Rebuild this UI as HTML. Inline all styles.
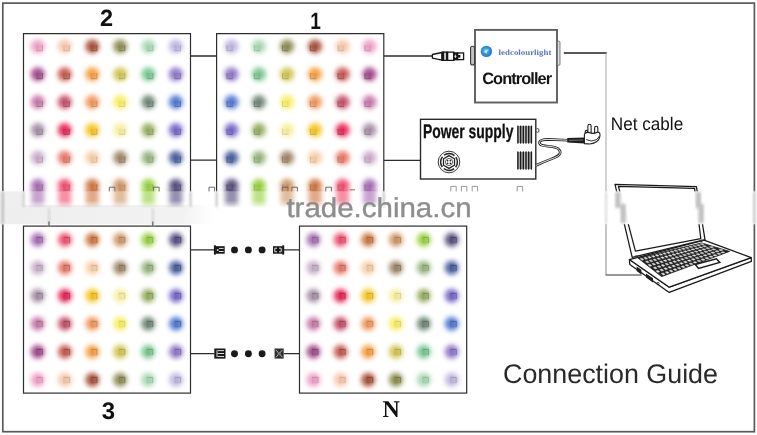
<!DOCTYPE html>
<html lang="en"><head><meta charset="utf-8"><title>Connection Guide</title>
<style>
html,body{margin:0;padding:0;background:#fff;}
body{width:757px;height:435px;overflow:hidden;font-family:"Liberation Sans",sans-serif;}
svg{display:block}
text{font-family:"Liberation Sans",sans-serif;opacity:.999;text-rendering:geometricPrecision;}
</style></head><body>
<svg width="757" height="435" viewBox="0 0 757 435">
<defs>
<filter id="glow" x="-5%" y="-5%" width="110%" height="110%"><feGaussianBlur stdDeviation="2.8"/></filter>
<filter id="soft" x="-5%" y="-5%" width="110%" height="110%"><feGaussianBlur stdDeviation="0.45"/></filter>
<filter id="smear" x="0" y="175" width="757" height="45" filterUnits="userSpaceOnUse"><feGaussianBlur stdDeviation="2.8 1.1"/></filter>
<filter id="smear2" x="-10" y="-10" width="777" height="455" filterUnits="userSpaceOnUse"><feGaussianBlur stdDeviation="1.3 1.6"/></filter>
<linearGradient id="lgray" x1="0" y1="0" x2="1" y2="0"><stop offset="0" stop-color="#eeeeee"/><stop offset=".85" stop-color="#f2f2f2"/><stop offset="1" stop-color="#f6f6f6" stop-opacity="0"/></linearGradient>
<linearGradient id="smg" x1="0" y1="0" x2="0" y2="1"><stop offset="0" stop-color="#fff"/><stop offset=".7" stop-color="#fff"/><stop offset="1" stop-color="#000"/></linearGradient>
<mask id="smask" maskUnits="userSpaceOnUse" x="0" y="180" width="757" height="40"><rect x="0" y="180" width="757" height="29" fill="url(#smg)"/></mask>
<radialGradient id="logo" cx=".45" cy=".45" r=".6"><stop offset="0" stop-color="#6cc6ee"/><stop offset=".55" stop-color="#2f8fd4"/><stop offset="1" stop-color="#2a78c0"/></radialGradient>
<filter id="b1"><feGaussianBlur stdDeviation="0.35"/></filter>
<linearGradient id="fade" x1="0" y1="0" x2="0" y2="1"><stop offset="0" stop-color="#fff" stop-opacity="0"/><stop offset=".75" stop-color="#fff" stop-opacity=".35"/><stop offset="1" stop-color="#fff" stop-opacity="1"/></linearGradient>
</defs>
<rect width="757" height="435" fill="#fff"/>

<rect x="2.8" y="3.1" width="751.6" height="428.6" fill="none" stroke="#5a5a5a" stroke-width="1.7"/>
<g fill="none" stroke="#2e2e2e" stroke-width="1.2">
<path d="M23.5 200.6V33.6H190.5V200.6"/>
<path d="M216.6 200.6V33.6H383.8V200.6"/>
<rect x="23.5" y="226.1" width="167" height="167"/>
<rect x="299.5" y="226.1" width="167.2" height="167"/>
</g>
<g fill="none" stroke="#2c2c2c" stroke-width="1.3">
<path d="M190.5 56H216.6M190.5 160.2H216.6"/>
<path d="M383.8 56H432"/>
<path d="M383.8 160.3H420.5"/>
<path d="M190.5 249.9H214.5M283.5 249.9H299.5M190.5 353.6H214.5M284 353.6H299.5"/>
<path d="M563.8 53H606.7" stroke="#222" stroke-width="1.3"/>
</g>
<path d="M606 53V224" fill="none" stroke="#a4a4a4" stroke-width="1"/>
<path d="M606 224V275" fill="none" stroke="#8a8a8a" stroke-width="1"/><path d="M605.6 275H641.6" fill="none" stroke="#333" stroke-width="1.2"/>
<g filter="url(#glow)" opacity=".93"><circle cx="37.8" cy="46.4" r="7" fill="#f09cc4"/><circle cx="64.7" cy="46.4" r="7" fill="#f7c4a8"/><circle cx="92.3" cy="46.4" r="7" fill="#a64e36"/><circle cx="120.2" cy="46.4" r="7" fill="#8a8a50"/><circle cx="148.4" cy="46.4" r="7" fill="#a6d8b0"/><circle cx="175.8" cy="46.4" r="7" fill="#beb4e0"/><circle cx="37.8" cy="74.2" r="7" fill="#a04488"/><circle cx="64.7" cy="74.2" r="7" fill="#c4544c"/><circle cx="92.3" cy="74.2" r="7" fill="#f79c3c"/><circle cx="120.2" cy="74.2" r="7" fill="#cec44c"/><circle cx="148.4" cy="74.2" r="7" fill="#74c68c"/><circle cx="175.8" cy="74.2" r="7" fill="#8c74c8"/><circle cx="37.8" cy="102.1" r="7" fill="#c874a8"/><circle cx="64.7" cy="102.1" r="7" fill="#c44c68"/><circle cx="92.3" cy="102.1" r="7" fill="#f09454"/><circle cx="120.2" cy="102.1" r="7" fill="#f7ee5c"/><circle cx="148.4" cy="102.1" r="7" fill="#6c8474"/><circle cx="175.8" cy="102.1" r="7" fill="#4c74d0"/><circle cx="37.8" cy="130.0" r="7" fill="#a48ca4"/><circle cx="64.7" cy="130.0" r="7" fill="#e82454"/><circle cx="92.3" cy="130.0" r="7" fill="#f7c41c"/><circle cx="120.2" cy="130.0" r="7" fill="#f7ee9c"/><circle cx="148.4" cy="130.0" r="7" fill="#94ac5c"/><circle cx="175.8" cy="130.0" r="7" fill="#7464c8"/><circle cx="37.8" cy="157.8" r="7" fill="#c8acc8"/><circle cx="64.7" cy="157.8" r="7" fill="#e87464"/><circle cx="92.3" cy="157.8" r="7" fill="#f7cca4"/><circle cx="120.2" cy="157.8" r="7" fill="#9c8464"/><circle cx="148.4" cy="157.8" r="7" fill="#94b47c"/><circle cx="175.8" cy="157.8" r="7" fill="#445c9c"/><circle cx="37.8" cy="185.7" r="7" fill="#a46cb0"/><circle cx="64.7" cy="185.7" r="7" fill="#f04c6c"/><circle cx="92.3" cy="185.7" r="7" fill="#ce743c"/><circle cx="120.2" cy="185.7" r="7" fill="#ce9464"/><circle cx="148.4" cy="185.7" r="7" fill="#94d03c"/><circle cx="175.8" cy="185.7" r="7" fill="#544c7c"/></g>
<g filter="url(#soft)"><rect x="36.6" y="45.2" width="5.8" height="5.6" fill="#905d75" fill-opacity="0.10"/><path d="M36.6 50.8V45.2" fill="none" stroke="#905d75" stroke-opacity="0.12" stroke-width="1"/><path d="M42.4 45.2V50.8H36.6" fill="none" stroke="#905d75" stroke-opacity="0.35" stroke-width="1.1"/><rect x="63.5" y="45.2" width="5.8" height="5.6" fill="#947564" fill-opacity="0.09"/><path d="M63.5 50.8V45.2" fill="none" stroke="#947564" stroke-opacity="0.11" stroke-width="1"/><path d="M69.3 45.2V50.8H63.5" fill="none" stroke="#947564" stroke-opacity="0.31" stroke-width="1.1"/><rect x="91.1" y="45.2" width="5.8" height="5.6" fill="#632e20" fill-opacity="0.14"/><path d="M91.1 50.8V45.2" fill="none" stroke="#632e20" stroke-opacity="0.17" stroke-width="1"/><path d="M96.9 45.2V50.8H91.1" fill="none" stroke="#632e20" stroke-opacity="0.49" stroke-width="1.1"/><rect x="119.0" y="45.2" width="5.8" height="5.6" fill="#525230" fill-opacity="0.13"/><path d="M119.0 50.8V45.2" fill="none" stroke="#525230" stroke-opacity="0.15" stroke-width="1"/><path d="M124.8 45.2V50.8H119.0" fill="none" stroke="#525230" stroke-opacity="0.44" stroke-width="1.1"/><rect x="147.2" y="45.2" width="5.8" height="5.6" fill="#638169" fill-opacity="0.10"/><path d="M147.2 50.8V45.2" fill="none" stroke="#638169" stroke-opacity="0.11" stroke-width="1"/><path d="M153.0 45.2V50.8H147.2" fill="none" stroke="#638169" stroke-opacity="0.33" stroke-width="1.1"/><rect x="174.6" y="45.2" width="5.8" height="5.6" fill="#726c86" fill-opacity="0.10"/><path d="M174.6 50.8V45.2" fill="none" stroke="#726c86" stroke-opacity="0.12" stroke-width="1"/><path d="M180.4 45.2V50.8H174.6" fill="none" stroke="#726c86" stroke-opacity="0.35" stroke-width="1.1"/><rect x="36.6" y="73.0" width="5.8" height="5.6" fill="#602851" fill-opacity="0.14"/><path d="M36.6 78.6V73.0" fill="none" stroke="#602851" stroke-opacity="0.17" stroke-width="1"/><path d="M42.4 73.0V78.6H36.6" fill="none" stroke="#602851" stroke-opacity="0.49" stroke-width="1.1"/><rect x="63.5" y="73.0" width="5.8" height="5.6" fill="#75322d" fill-opacity="0.14"/><path d="M63.5 78.6V73.0" fill="none" stroke="#75322d" stroke-opacity="0.16" stroke-width="1"/><path d="M69.3 73.0V78.6H63.5" fill="none" stroke="#75322d" stroke-opacity="0.47" stroke-width="1.1"/><rect x="91.1" y="73.0" width="5.8" height="5.6" fill="#945d24" fill-opacity="0.11"/><path d="M91.1 78.6V73.0" fill="none" stroke="#945d24" stroke-opacity="0.13" stroke-width="1"/><path d="M96.9 73.0V78.6H91.1" fill="none" stroke="#945d24" stroke-opacity="0.37" stroke-width="1.1"/><rect x="119.0" y="73.0" width="5.8" height="5.6" fill="#7b752d" fill-opacity="0.10"/><path d="M119.0 78.6V73.0" fill="none" stroke="#7b752d" stroke-opacity="0.12" stroke-width="1"/><path d="M124.8 73.0V78.6H119.0" fill="none" stroke="#7b752d" stroke-opacity="0.35" stroke-width="1.1"/><rect x="147.2" y="73.0" width="5.8" height="5.6" fill="#457654" fill-opacity="0.11"/><path d="M147.2 78.6V73.0" fill="none" stroke="#457654" stroke-opacity="0.13" stroke-width="1"/><path d="M153.0 73.0V78.6H147.2" fill="none" stroke="#457654" stroke-opacity="0.38" stroke-width="1.1"/><rect x="174.6" y="73.0" width="5.8" height="5.6" fill="#544578" fill-opacity="0.13"/><path d="M174.6 78.6V73.0" fill="none" stroke="#544578" stroke-opacity="0.15" stroke-width="1"/><path d="M180.4 73.0V78.6H174.6" fill="none" stroke="#544578" stroke-opacity="0.44" stroke-width="1.1"/><rect x="36.6" y="100.9" width="5.8" height="5.6" fill="#784564" fill-opacity="0.12"/><path d="M36.6 106.5V100.9" fill="none" stroke="#784564" stroke-opacity="0.14" stroke-width="1"/><path d="M42.4 100.9V106.5H36.6" fill="none" stroke="#784564" stroke-opacity="0.42" stroke-width="1.1"/><rect x="63.5" y="100.9" width="5.8" height="5.6" fill="#752d3e" fill-opacity="0.14"/><path d="M63.5 106.5V100.9" fill="none" stroke="#752d3e" stroke-opacity="0.16" stroke-width="1"/><path d="M69.3 100.9V106.5H63.5" fill="none" stroke="#752d3e" stroke-opacity="0.47" stroke-width="1.1"/><rect x="91.1" y="100.9" width="5.8" height="5.6" fill="#905832" fill-opacity="0.11"/><path d="M91.1 106.5V100.9" fill="none" stroke="#905832" stroke-opacity="0.13" stroke-width="1"/><path d="M96.9 100.9V106.5H91.1" fill="none" stroke="#905832" stroke-opacity="0.38" stroke-width="1.1"/><rect x="119.0" y="100.9" width="5.8" height="5.6" fill="#948e37" fill-opacity="0.08"/><path d="M119.0 106.5V100.9" fill="none" stroke="#948e37" stroke-opacity="0.10" stroke-width="1"/><path d="M124.8 100.9V106.5H119.0" fill="none" stroke="#948e37" stroke-opacity="0.28" stroke-width="1.1"/><rect x="147.2" y="100.9" width="5.8" height="5.6" fill="#404f45" fill-opacity="0.13"/><path d="M147.2 106.5V100.9" fill="none" stroke="#404f45" stroke-opacity="0.16" stroke-width="1"/><path d="M153.0 100.9V106.5H147.2" fill="none" stroke="#404f45" stroke-opacity="0.46" stroke-width="1.1"/><rect x="174.6" y="100.9" width="5.8" height="5.6" fill="#2d457c" fill-opacity="0.14"/><path d="M174.6 106.5V100.9" fill="none" stroke="#2d457c" stroke-opacity="0.16" stroke-width="1"/><path d="M180.4 100.9V106.5H174.6" fill="none" stroke="#2d457c" stroke-opacity="0.47" stroke-width="1.1"/><rect x="36.6" y="128.8" width="5.8" height="5.6" fill="#625462" fill-opacity="0.12"/><path d="M36.6 134.4V128.8" fill="none" stroke="#625462" stroke-opacity="0.14" stroke-width="1"/><path d="M42.4 128.8V134.4H36.6" fill="none" stroke="#625462" stroke-opacity="0.41" stroke-width="1.1"/><rect x="63.5" y="128.8" width="5.8" height="5.6" fill="#8b1532" fill-opacity="0.15"/><path d="M63.5 134.4V128.8" fill="none" stroke="#8b1532" stroke-opacity="0.17" stroke-width="1"/><path d="M69.3 128.8V134.4H63.5" fill="none" stroke="#8b1532" stroke-opacity="0.50" stroke-width="1.1"/><rect x="91.1" y="128.8" width="5.8" height="5.6" fill="#947510" fill-opacity="0.10"/><path d="M91.1 134.4V128.8" fill="none" stroke="#947510" stroke-opacity="0.12" stroke-width="1"/><path d="M96.9 128.8V134.4H91.1" fill="none" stroke="#947510" stroke-opacity="0.34" stroke-width="1.1"/><rect x="119.0" y="128.8" width="5.8" height="5.6" fill="#948e5d" fill-opacity="0.08"/><path d="M119.0 134.4V128.8" fill="none" stroke="#948e5d" stroke-opacity="0.09" stroke-width="1"/><path d="M124.8 128.8V134.4H119.0" fill="none" stroke="#948e5d" stroke-opacity="0.27" stroke-width="1.1"/><rect x="147.2" y="128.8" width="5.8" height="5.6" fill="#586737" fill-opacity="0.12"/><path d="M147.2 134.4V128.8" fill="none" stroke="#586737" stroke-opacity="0.14" stroke-width="1"/><path d="M153.0 128.8V134.4H147.2" fill="none" stroke="#586737" stroke-opacity="0.40" stroke-width="1.1"/><rect x="174.6" y="128.8" width="5.8" height="5.6" fill="#453c78" fill-opacity="0.14"/><path d="M174.6 134.4V128.8" fill="none" stroke="#453c78" stroke-opacity="0.16" stroke-width="1"/><path d="M180.4 128.8V134.4H174.6" fill="none" stroke="#453c78" stroke-opacity="0.47" stroke-width="1.1"/><rect x="36.6" y="156.6" width="5.8" height="5.6" fill="#786778" fill-opacity="0.10"/><path d="M36.6 162.2V156.6" fill="none" stroke="#786778" stroke-opacity="0.12" stroke-width="1"/><path d="M42.4 156.6V162.2H36.6" fill="none" stroke="#786778" stroke-opacity="0.35" stroke-width="1.1"/><rect x="63.5" y="156.6" width="5.8" height="5.6" fill="#8b453c" fill-opacity="0.12"/><path d="M63.5 162.2V156.6" fill="none" stroke="#8b453c" stroke-opacity="0.14" stroke-width="1"/><path d="M69.3 156.6V162.2H63.5" fill="none" stroke="#8b453c" stroke-opacity="0.41" stroke-width="1.1"/><rect x="91.1" y="156.6" width="5.8" height="5.6" fill="#947a62" fill-opacity="0.09"/><path d="M91.1 162.2V156.6" fill="none" stroke="#947a62" stroke-opacity="0.10" stroke-width="1"/><path d="M96.9 156.6V162.2H91.1" fill="none" stroke="#947a62" stroke-opacity="0.30" stroke-width="1.1"/><rect x="119.0" y="156.6" width="5.8" height="5.6" fill="#5d4f3c" fill-opacity="0.13"/><path d="M119.0 162.2V156.6" fill="none" stroke="#5d4f3c" stroke-opacity="0.15" stroke-width="1"/><path d="M124.8 156.6V162.2H119.0" fill="none" stroke="#5d4f3c" stroke-opacity="0.44" stroke-width="1.1"/><rect x="147.2" y="156.6" width="5.8" height="5.6" fill="#586c4a" fill-opacity="0.11"/><path d="M147.2 162.2V156.6" fill="none" stroke="#586c4a" stroke-opacity="0.13" stroke-width="1"/><path d="M153.0 156.6V162.2H147.2" fill="none" stroke="#586c4a" stroke-opacity="0.39" stroke-width="1.1"/><rect x="174.6" y="156.6" width="5.8" height="5.6" fill="#28375d" fill-opacity="0.15"/><path d="M174.6 162.2V156.6" fill="none" stroke="#28375d" stroke-opacity="0.18" stroke-width="1"/><path d="M180.4 156.6V162.2H174.6" fill="none" stroke="#28375d" stroke-opacity="0.51" stroke-width="1.1"/><rect x="36.6" y="184.4" width="5.8" height="5.6" fill="#624069" fill-opacity="0.13"/><path d="M36.6 190.1V184.4" fill="none" stroke="#624069" stroke-opacity="0.15" stroke-width="1"/><path d="M42.4 184.4V190.1H36.6" fill="none" stroke="#624069" stroke-opacity="0.44" stroke-width="1.1"/><rect x="63.5" y="184.4" width="5.8" height="5.6" fill="#902d40" fill-opacity="0.13"/><path d="M63.5 190.1V184.4" fill="none" stroke="#902d40" stroke-opacity="0.15" stroke-width="1"/><path d="M69.3 184.4V190.1H63.5" fill="none" stroke="#902d40" stroke-opacity="0.45" stroke-width="1.1"/><rect x="91.1" y="184.4" width="5.8" height="5.6" fill="#7b4524" fill-opacity="0.13"/><path d="M91.1 190.1V184.4" fill="none" stroke="#7b4524" stroke-opacity="0.15" stroke-width="1"/><path d="M96.9 184.4V190.1H91.1" fill="none" stroke="#7b4524" stroke-opacity="0.43" stroke-width="1.1"/><rect x="119.0" y="184.4" width="5.8" height="5.6" fill="#7b583c" fill-opacity="0.12"/><path d="M119.0 190.1V184.4" fill="none" stroke="#7b583c" stroke-opacity="0.14" stroke-width="1"/><path d="M124.8 184.4V190.1H119.0" fill="none" stroke="#7b583c" stroke-opacity="0.39" stroke-width="1.1"/><rect x="147.2" y="184.4" width="5.8" height="5.6" fill="#587c24" fill-opacity="0.11"/><path d="M147.2 190.1V184.4" fill="none" stroke="#587c24" stroke-opacity="0.13" stroke-width="1"/><path d="M153.0 184.4V190.1H147.2" fill="none" stroke="#587c24" stroke-opacity="0.37" stroke-width="1.1"/><rect x="174.6" y="184.4" width="5.8" height="5.6" fill="#322d4a" fill-opacity="0.15"/><path d="M174.6 190.1V184.4" fill="none" stroke="#322d4a" stroke-opacity="0.18" stroke-width="1"/><path d="M180.4 184.4V190.1H174.6" fill="none" stroke="#322d4a" stroke-opacity="0.52" stroke-width="1.1"/></g>
<g filter="url(#glow)" opacity=".93"><circle cx="231.5" cy="46.4" r="7" fill="#beb4e0"/><circle cx="258.9" cy="46.4" r="7" fill="#a6d8b0"/><circle cx="287.1" cy="46.4" r="7" fill="#8a8a50"/><circle cx="315.0" cy="46.4" r="7" fill="#a64e36"/><circle cx="342.6" cy="46.4" r="7" fill="#f7c4a8"/><circle cx="369.5" cy="46.4" r="7" fill="#f09cc4"/><circle cx="231.5" cy="74.2" r="7" fill="#8c74c8"/><circle cx="258.9" cy="74.2" r="7" fill="#74c68c"/><circle cx="287.1" cy="74.2" r="7" fill="#cec44c"/><circle cx="315.0" cy="74.2" r="7" fill="#f79c3c"/><circle cx="342.6" cy="74.2" r="7" fill="#c4544c"/><circle cx="369.5" cy="74.2" r="7" fill="#a04488"/><circle cx="231.5" cy="102.1" r="7" fill="#4c74d0"/><circle cx="258.9" cy="102.1" r="7" fill="#6c8474"/><circle cx="287.1" cy="102.1" r="7" fill="#f7ee5c"/><circle cx="315.0" cy="102.1" r="7" fill="#f09454"/><circle cx="342.6" cy="102.1" r="7" fill="#c44c68"/><circle cx="369.5" cy="102.1" r="7" fill="#c874a8"/><circle cx="231.5" cy="130.0" r="7" fill="#7464c8"/><circle cx="258.9" cy="130.0" r="7" fill="#94ac5c"/><circle cx="287.1" cy="130.0" r="7" fill="#f7ee9c"/><circle cx="315.0" cy="130.0" r="7" fill="#f7c41c"/><circle cx="342.6" cy="130.0" r="7" fill="#e82454"/><circle cx="369.5" cy="130.0" r="7" fill="#a48ca4"/><circle cx="231.5" cy="157.8" r="7" fill="#445c9c"/><circle cx="258.9" cy="157.8" r="7" fill="#94b47c"/><circle cx="287.1" cy="157.8" r="7" fill="#9c8464"/><circle cx="315.0" cy="157.8" r="7" fill="#f7cca4"/><circle cx="342.6" cy="157.8" r="7" fill="#e87464"/><circle cx="369.5" cy="157.8" r="7" fill="#c8acc8"/><circle cx="231.5" cy="185.7" r="7" fill="#544c7c"/><circle cx="258.9" cy="185.7" r="7" fill="#94d03c"/><circle cx="287.1" cy="185.7" r="7" fill="#ce9464"/><circle cx="315.0" cy="185.7" r="7" fill="#ce743c"/><circle cx="342.6" cy="185.7" r="7" fill="#f04c6c"/><circle cx="369.5" cy="185.7" r="7" fill="#a46cb0"/></g>
<g filter="url(#soft)"><rect x="226.9" y="45.2" width="5.8" height="5.6" fill="#726c86" fill-opacity="0.10"/><path d="M232.7 50.8V45.2" fill="none" stroke="#726c86" stroke-opacity="0.12" stroke-width="1"/><path d="M226.9 45.2V50.8H232.7" fill="none" stroke="#726c86" stroke-opacity="0.35" stroke-width="1.1"/><rect x="254.3" y="45.2" width="5.8" height="5.6" fill="#638169" fill-opacity="0.10"/><path d="M260.1 50.8V45.2" fill="none" stroke="#638169" stroke-opacity="0.11" stroke-width="1"/><path d="M254.3 45.2V50.8H260.1" fill="none" stroke="#638169" stroke-opacity="0.33" stroke-width="1.1"/><rect x="282.5" y="45.2" width="5.8" height="5.6" fill="#525230" fill-opacity="0.13"/><path d="M288.3 50.8V45.2" fill="none" stroke="#525230" stroke-opacity="0.15" stroke-width="1"/><path d="M282.5 45.2V50.8H288.3" fill="none" stroke="#525230" stroke-opacity="0.44" stroke-width="1.1"/><rect x="310.4" y="45.2" width="5.8" height="5.6" fill="#632e20" fill-opacity="0.14"/><path d="M316.2 50.8V45.2" fill="none" stroke="#632e20" stroke-opacity="0.17" stroke-width="1"/><path d="M310.4 45.2V50.8H316.2" fill="none" stroke="#632e20" stroke-opacity="0.49" stroke-width="1.1"/><rect x="338.0" y="45.2" width="5.8" height="5.6" fill="#947564" fill-opacity="0.09"/><path d="M343.8 50.8V45.2" fill="none" stroke="#947564" stroke-opacity="0.11" stroke-width="1"/><path d="M338.0 45.2V50.8H343.8" fill="none" stroke="#947564" stroke-opacity="0.31" stroke-width="1.1"/><rect x="364.9" y="45.2" width="5.8" height="5.6" fill="#905d75" fill-opacity="0.10"/><path d="M370.7 50.8V45.2" fill="none" stroke="#905d75" stroke-opacity="0.12" stroke-width="1"/><path d="M364.9 45.2V50.8H370.7" fill="none" stroke="#905d75" stroke-opacity="0.35" stroke-width="1.1"/><rect x="226.9" y="73.0" width="5.8" height="5.6" fill="#544578" fill-opacity="0.13"/><path d="M232.7 78.6V73.0" fill="none" stroke="#544578" stroke-opacity="0.15" stroke-width="1"/><path d="M226.9 73.0V78.6H232.7" fill="none" stroke="#544578" stroke-opacity="0.44" stroke-width="1.1"/><rect x="254.3" y="73.0" width="5.8" height="5.6" fill="#457654" fill-opacity="0.11"/><path d="M260.1 78.6V73.0" fill="none" stroke="#457654" stroke-opacity="0.13" stroke-width="1"/><path d="M254.3 73.0V78.6H260.1" fill="none" stroke="#457654" stroke-opacity="0.38" stroke-width="1.1"/><rect x="282.5" y="73.0" width="5.8" height="5.6" fill="#7b752d" fill-opacity="0.10"/><path d="M288.3 78.6V73.0" fill="none" stroke="#7b752d" stroke-opacity="0.12" stroke-width="1"/><path d="M282.5 73.0V78.6H288.3" fill="none" stroke="#7b752d" stroke-opacity="0.35" stroke-width="1.1"/><rect x="310.4" y="73.0" width="5.8" height="5.6" fill="#945d24" fill-opacity="0.11"/><path d="M316.2 78.6V73.0" fill="none" stroke="#945d24" stroke-opacity="0.13" stroke-width="1"/><path d="M310.4 73.0V78.6H316.2" fill="none" stroke="#945d24" stroke-opacity="0.37" stroke-width="1.1"/><rect x="338.0" y="73.0" width="5.8" height="5.6" fill="#75322d" fill-opacity="0.14"/><path d="M343.8 78.6V73.0" fill="none" stroke="#75322d" stroke-opacity="0.16" stroke-width="1"/><path d="M338.0 73.0V78.6H343.8" fill="none" stroke="#75322d" stroke-opacity="0.47" stroke-width="1.1"/><rect x="364.9" y="73.0" width="5.8" height="5.6" fill="#602851" fill-opacity="0.14"/><path d="M370.7 78.6V73.0" fill="none" stroke="#602851" stroke-opacity="0.17" stroke-width="1"/><path d="M364.9 73.0V78.6H370.7" fill="none" stroke="#602851" stroke-opacity="0.49" stroke-width="1.1"/><rect x="226.9" y="100.9" width="5.8" height="5.6" fill="#2d457c" fill-opacity="0.14"/><path d="M232.7 106.5V100.9" fill="none" stroke="#2d457c" stroke-opacity="0.16" stroke-width="1"/><path d="M226.9 100.9V106.5H232.7" fill="none" stroke="#2d457c" stroke-opacity="0.47" stroke-width="1.1"/><rect x="254.3" y="100.9" width="5.8" height="5.6" fill="#404f45" fill-opacity="0.13"/><path d="M260.1 106.5V100.9" fill="none" stroke="#404f45" stroke-opacity="0.16" stroke-width="1"/><path d="M254.3 100.9V106.5H260.1" fill="none" stroke="#404f45" stroke-opacity="0.46" stroke-width="1.1"/><rect x="282.5" y="100.9" width="5.8" height="5.6" fill="#948e37" fill-opacity="0.08"/><path d="M288.3 106.5V100.9" fill="none" stroke="#948e37" stroke-opacity="0.10" stroke-width="1"/><path d="M282.5 100.9V106.5H288.3" fill="none" stroke="#948e37" stroke-opacity="0.28" stroke-width="1.1"/><rect x="310.4" y="100.9" width="5.8" height="5.6" fill="#905832" fill-opacity="0.11"/><path d="M316.2 106.5V100.9" fill="none" stroke="#905832" stroke-opacity="0.13" stroke-width="1"/><path d="M310.4 100.9V106.5H316.2" fill="none" stroke="#905832" stroke-opacity="0.38" stroke-width="1.1"/><rect x="338.0" y="100.9" width="5.8" height="5.6" fill="#752d3e" fill-opacity="0.14"/><path d="M343.8 106.5V100.9" fill="none" stroke="#752d3e" stroke-opacity="0.16" stroke-width="1"/><path d="M338.0 100.9V106.5H343.8" fill="none" stroke="#752d3e" stroke-opacity="0.47" stroke-width="1.1"/><rect x="364.9" y="100.9" width="5.8" height="5.6" fill="#784564" fill-opacity="0.12"/><path d="M370.7 106.5V100.9" fill="none" stroke="#784564" stroke-opacity="0.14" stroke-width="1"/><path d="M364.9 100.9V106.5H370.7" fill="none" stroke="#784564" stroke-opacity="0.42" stroke-width="1.1"/><rect x="226.9" y="128.8" width="5.8" height="5.6" fill="#453c78" fill-opacity="0.14"/><path d="M232.7 134.4V128.8" fill="none" stroke="#453c78" stroke-opacity="0.16" stroke-width="1"/><path d="M226.9 128.8V134.4H232.7" fill="none" stroke="#453c78" stroke-opacity="0.47" stroke-width="1.1"/><rect x="254.3" y="128.8" width="5.8" height="5.6" fill="#586737" fill-opacity="0.12"/><path d="M260.1 134.4V128.8" fill="none" stroke="#586737" stroke-opacity="0.14" stroke-width="1"/><path d="M254.3 128.8V134.4H260.1" fill="none" stroke="#586737" stroke-opacity="0.40" stroke-width="1.1"/><rect x="282.5" y="128.8" width="5.8" height="5.6" fill="#948e5d" fill-opacity="0.08"/><path d="M288.3 134.4V128.8" fill="none" stroke="#948e5d" stroke-opacity="0.09" stroke-width="1"/><path d="M282.5 128.8V134.4H288.3" fill="none" stroke="#948e5d" stroke-opacity="0.27" stroke-width="1.1"/><rect x="310.4" y="128.8" width="5.8" height="5.6" fill="#947510" fill-opacity="0.10"/><path d="M316.2 134.4V128.8" fill="none" stroke="#947510" stroke-opacity="0.12" stroke-width="1"/><path d="M310.4 128.8V134.4H316.2" fill="none" stroke="#947510" stroke-opacity="0.34" stroke-width="1.1"/><rect x="338.0" y="128.8" width="5.8" height="5.6" fill="#8b1532" fill-opacity="0.15"/><path d="M343.8 134.4V128.8" fill="none" stroke="#8b1532" stroke-opacity="0.17" stroke-width="1"/><path d="M338.0 128.8V134.4H343.8" fill="none" stroke="#8b1532" stroke-opacity="0.50" stroke-width="1.1"/><rect x="364.9" y="128.8" width="5.8" height="5.6" fill="#625462" fill-opacity="0.12"/><path d="M370.7 134.4V128.8" fill="none" stroke="#625462" stroke-opacity="0.14" stroke-width="1"/><path d="M364.9 128.8V134.4H370.7" fill="none" stroke="#625462" stroke-opacity="0.41" stroke-width="1.1"/><rect x="226.9" y="156.6" width="5.8" height="5.6" fill="#28375d" fill-opacity="0.15"/><path d="M232.7 162.2V156.6" fill="none" stroke="#28375d" stroke-opacity="0.18" stroke-width="1"/><path d="M226.9 156.6V162.2H232.7" fill="none" stroke="#28375d" stroke-opacity="0.51" stroke-width="1.1"/><rect x="254.3" y="156.6" width="5.8" height="5.6" fill="#586c4a" fill-opacity="0.11"/><path d="M260.1 162.2V156.6" fill="none" stroke="#586c4a" stroke-opacity="0.13" stroke-width="1"/><path d="M254.3 156.6V162.2H260.1" fill="none" stroke="#586c4a" stroke-opacity="0.39" stroke-width="1.1"/><rect x="282.5" y="156.6" width="5.8" height="5.6" fill="#5d4f3c" fill-opacity="0.13"/><path d="M288.3 162.2V156.6" fill="none" stroke="#5d4f3c" stroke-opacity="0.15" stroke-width="1"/><path d="M282.5 156.6V162.2H288.3" fill="none" stroke="#5d4f3c" stroke-opacity="0.44" stroke-width="1.1"/><rect x="310.4" y="156.6" width="5.8" height="5.6" fill="#947a62" fill-opacity="0.09"/><path d="M316.2 162.2V156.6" fill="none" stroke="#947a62" stroke-opacity="0.10" stroke-width="1"/><path d="M310.4 156.6V162.2H316.2" fill="none" stroke="#947a62" stroke-opacity="0.30" stroke-width="1.1"/><rect x="338.0" y="156.6" width="5.8" height="5.6" fill="#8b453c" fill-opacity="0.12"/><path d="M343.8 162.2V156.6" fill="none" stroke="#8b453c" stroke-opacity="0.14" stroke-width="1"/><path d="M338.0 156.6V162.2H343.8" fill="none" stroke="#8b453c" stroke-opacity="0.41" stroke-width="1.1"/><rect x="364.9" y="156.6" width="5.8" height="5.6" fill="#786778" fill-opacity="0.10"/><path d="M370.7 162.2V156.6" fill="none" stroke="#786778" stroke-opacity="0.12" stroke-width="1"/><path d="M364.9 156.6V162.2H370.7" fill="none" stroke="#786778" stroke-opacity="0.35" stroke-width="1.1"/><rect x="226.9" y="184.4" width="5.8" height="5.6" fill="#322d4a" fill-opacity="0.15"/><path d="M232.7 190.1V184.4" fill="none" stroke="#322d4a" stroke-opacity="0.18" stroke-width="1"/><path d="M226.9 184.4V190.1H232.7" fill="none" stroke="#322d4a" stroke-opacity="0.52" stroke-width="1.1"/><rect x="254.3" y="184.4" width="5.8" height="5.6" fill="#587c24" fill-opacity="0.11"/><path d="M260.1 190.1V184.4" fill="none" stroke="#587c24" stroke-opacity="0.13" stroke-width="1"/><path d="M254.3 184.4V190.1H260.1" fill="none" stroke="#587c24" stroke-opacity="0.37" stroke-width="1.1"/><rect x="282.5" y="184.4" width="5.8" height="5.6" fill="#7b583c" fill-opacity="0.12"/><path d="M288.3 190.1V184.4" fill="none" stroke="#7b583c" stroke-opacity="0.14" stroke-width="1"/><path d="M282.5 184.4V190.1H288.3" fill="none" stroke="#7b583c" stroke-opacity="0.39" stroke-width="1.1"/><rect x="310.4" y="184.4" width="5.8" height="5.6" fill="#7b4524" fill-opacity="0.13"/><path d="M316.2 190.1V184.4" fill="none" stroke="#7b4524" stroke-opacity="0.15" stroke-width="1"/><path d="M310.4 184.4V190.1H316.2" fill="none" stroke="#7b4524" stroke-opacity="0.43" stroke-width="1.1"/><rect x="338.0" y="184.4" width="5.8" height="5.6" fill="#902d40" fill-opacity="0.13"/><path d="M343.8 190.1V184.4" fill="none" stroke="#902d40" stroke-opacity="0.15" stroke-width="1"/><path d="M338.0 184.4V190.1H343.8" fill="none" stroke="#902d40" stroke-opacity="0.45" stroke-width="1.1"/><rect x="364.9" y="184.4" width="5.8" height="5.6" fill="#624069" fill-opacity="0.13"/><path d="M370.7 190.1V184.4" fill="none" stroke="#624069" stroke-opacity="0.15" stroke-width="1"/><path d="M364.9 184.4V190.1H370.7" fill="none" stroke="#624069" stroke-opacity="0.44" stroke-width="1.1"/></g>
<g filter="url(#glow)" opacity=".93"><circle cx="37.7" cy="239.8" r="7" fill="#a46cb0"/><circle cx="64.9" cy="239.8" r="7" fill="#f04c6c"/><circle cx="92.4" cy="239.8" r="7" fill="#ce743c"/><circle cx="120.2" cy="239.8" r="7" fill="#ce9464"/><circle cx="148.1" cy="239.8" r="7" fill="#94d03c"/><circle cx="176.0" cy="239.8" r="7" fill="#544c7c"/><circle cx="37.7" cy="267.8" r="7" fill="#c8acc8"/><circle cx="64.9" cy="267.8" r="7" fill="#e87464"/><circle cx="92.4" cy="267.8" r="7" fill="#f7cca4"/><circle cx="120.2" cy="267.8" r="7" fill="#9c8464"/><circle cx="148.1" cy="267.8" r="7" fill="#94b47c"/><circle cx="176.0" cy="267.8" r="7" fill="#445c9c"/><circle cx="37.7" cy="295.8" r="7" fill="#a48ca4"/><circle cx="64.9" cy="295.8" r="7" fill="#e82454"/><circle cx="92.4" cy="295.8" r="7" fill="#f7c41c"/><circle cx="120.2" cy="295.8" r="7" fill="#f7ee9c"/><circle cx="148.1" cy="295.8" r="7" fill="#94ac5c"/><circle cx="176.0" cy="295.8" r="7" fill="#7464c8"/><circle cx="37.7" cy="323.8" r="7" fill="#c874a8"/><circle cx="64.9" cy="323.8" r="7" fill="#c44c68"/><circle cx="92.4" cy="323.8" r="7" fill="#f09454"/><circle cx="120.2" cy="323.8" r="7" fill="#f7ee5c"/><circle cx="148.1" cy="323.8" r="7" fill="#6c8474"/><circle cx="176.0" cy="323.8" r="7" fill="#4c74d0"/><circle cx="37.7" cy="351.8" r="7" fill="#a04488"/><circle cx="64.9" cy="351.8" r="7" fill="#c4544c"/><circle cx="92.4" cy="351.8" r="7" fill="#f79c3c"/><circle cx="120.2" cy="351.8" r="7" fill="#cec44c"/><circle cx="148.1" cy="351.8" r="7" fill="#74c68c"/><circle cx="176.0" cy="351.8" r="7" fill="#8c74c8"/><circle cx="37.7" cy="379.8" r="7" fill="#f09cc4"/><circle cx="64.9" cy="379.8" r="7" fill="#f7c4a8"/><circle cx="92.4" cy="379.8" r="7" fill="#a64e36"/><circle cx="120.2" cy="379.8" r="7" fill="#8a8a50"/><circle cx="148.1" cy="379.8" r="7" fill="#a6d8b0"/><circle cx="176.0" cy="379.8" r="7" fill="#beb4e0"/></g>
<g filter="url(#soft)"><rect x="36.5" y="237.4" width="5.8" height="5.6" fill="#624069" fill-opacity="0.13"/><path d="M36.5 237.4V243.0H42.3" fill="none" stroke="#624069" stroke-opacity="0.15" stroke-width="1"/><path d="M36.5 237.4H42.3V243.0" fill="none" stroke="#624069" stroke-opacity="0.44" stroke-width="1.1"/><rect x="63.7" y="237.4" width="5.8" height="5.6" fill="#902d40" fill-opacity="0.13"/><path d="M63.7 237.4V243.0H69.5" fill="none" stroke="#902d40" stroke-opacity="0.15" stroke-width="1"/><path d="M63.7 237.4H69.5V243.0" fill="none" stroke="#902d40" stroke-opacity="0.45" stroke-width="1.1"/><rect x="91.2" y="237.4" width="5.8" height="5.6" fill="#7b4524" fill-opacity="0.13"/><path d="M91.2 237.4V243.0H97.0" fill="none" stroke="#7b4524" stroke-opacity="0.15" stroke-width="1"/><path d="M91.2 237.4H97.0V243.0" fill="none" stroke="#7b4524" stroke-opacity="0.43" stroke-width="1.1"/><rect x="119.0" y="237.4" width="5.8" height="5.6" fill="#7b583c" fill-opacity="0.12"/><path d="M119.0 237.4V243.0H124.8" fill="none" stroke="#7b583c" stroke-opacity="0.14" stroke-width="1"/><path d="M119.0 237.4H124.8V243.0" fill="none" stroke="#7b583c" stroke-opacity="0.39" stroke-width="1.1"/><rect x="146.9" y="237.4" width="5.8" height="5.6" fill="#587c24" fill-opacity="0.11"/><path d="M146.9 237.4V243.0H152.7" fill="none" stroke="#587c24" stroke-opacity="0.13" stroke-width="1"/><path d="M146.9 237.4H152.7V243.0" fill="none" stroke="#587c24" stroke-opacity="0.37" stroke-width="1.1"/><rect x="174.8" y="237.4" width="5.8" height="5.6" fill="#322d4a" fill-opacity="0.15"/><path d="M174.8 237.4V243.0H180.6" fill="none" stroke="#322d4a" stroke-opacity="0.18" stroke-width="1"/><path d="M174.8 237.4H180.6V243.0" fill="none" stroke="#322d4a" stroke-opacity="0.52" stroke-width="1.1"/><rect x="36.5" y="265.4" width="5.8" height="5.6" fill="#786778" fill-opacity="0.10"/><path d="M36.5 265.4V271.0H42.3" fill="none" stroke="#786778" stroke-opacity="0.12" stroke-width="1"/><path d="M36.5 265.4H42.3V271.0" fill="none" stroke="#786778" stroke-opacity="0.35" stroke-width="1.1"/><rect x="63.7" y="265.4" width="5.8" height="5.6" fill="#8b453c" fill-opacity="0.12"/><path d="M63.7 265.4V271.0H69.5" fill="none" stroke="#8b453c" stroke-opacity="0.14" stroke-width="1"/><path d="M63.7 265.4H69.5V271.0" fill="none" stroke="#8b453c" stroke-opacity="0.41" stroke-width="1.1"/><rect x="91.2" y="265.4" width="5.8" height="5.6" fill="#947a62" fill-opacity="0.09"/><path d="M91.2 265.4V271.0H97.0" fill="none" stroke="#947a62" stroke-opacity="0.10" stroke-width="1"/><path d="M91.2 265.4H97.0V271.0" fill="none" stroke="#947a62" stroke-opacity="0.30" stroke-width="1.1"/><rect x="119.0" y="265.4" width="5.8" height="5.6" fill="#5d4f3c" fill-opacity="0.13"/><path d="M119.0 265.4V271.0H124.8" fill="none" stroke="#5d4f3c" stroke-opacity="0.15" stroke-width="1"/><path d="M119.0 265.4H124.8V271.0" fill="none" stroke="#5d4f3c" stroke-opacity="0.44" stroke-width="1.1"/><rect x="146.9" y="265.4" width="5.8" height="5.6" fill="#586c4a" fill-opacity="0.11"/><path d="M146.9 265.4V271.0H152.7" fill="none" stroke="#586c4a" stroke-opacity="0.13" stroke-width="1"/><path d="M146.9 265.4H152.7V271.0" fill="none" stroke="#586c4a" stroke-opacity="0.39" stroke-width="1.1"/><rect x="174.8" y="265.4" width="5.8" height="5.6" fill="#28375d" fill-opacity="0.15"/><path d="M174.8 265.4V271.0H180.6" fill="none" stroke="#28375d" stroke-opacity="0.18" stroke-width="1"/><path d="M174.8 265.4H180.6V271.0" fill="none" stroke="#28375d" stroke-opacity="0.51" stroke-width="1.1"/><rect x="36.5" y="293.4" width="5.8" height="5.6" fill="#625462" fill-opacity="0.12"/><path d="M36.5 293.4V299.0H42.3" fill="none" stroke="#625462" stroke-opacity="0.14" stroke-width="1"/><path d="M36.5 293.4H42.3V299.0" fill="none" stroke="#625462" stroke-opacity="0.41" stroke-width="1.1"/><rect x="63.7" y="293.4" width="5.8" height="5.6" fill="#8b1532" fill-opacity="0.15"/><path d="M63.7 293.4V299.0H69.5" fill="none" stroke="#8b1532" stroke-opacity="0.17" stroke-width="1"/><path d="M63.7 293.4H69.5V299.0" fill="none" stroke="#8b1532" stroke-opacity="0.50" stroke-width="1.1"/><rect x="91.2" y="293.4" width="5.8" height="5.6" fill="#947510" fill-opacity="0.10"/><path d="M91.2 293.4V299.0H97.0" fill="none" stroke="#947510" stroke-opacity="0.12" stroke-width="1"/><path d="M91.2 293.4H97.0V299.0" fill="none" stroke="#947510" stroke-opacity="0.34" stroke-width="1.1"/><rect x="119.0" y="293.4" width="5.8" height="5.6" fill="#948e5d" fill-opacity="0.08"/><path d="M119.0 293.4V299.0H124.8" fill="none" stroke="#948e5d" stroke-opacity="0.09" stroke-width="1"/><path d="M119.0 293.4H124.8V299.0" fill="none" stroke="#948e5d" stroke-opacity="0.27" stroke-width="1.1"/><rect x="146.9" y="293.4" width="5.8" height="5.6" fill="#586737" fill-opacity="0.12"/><path d="M146.9 293.4V299.0H152.7" fill="none" stroke="#586737" stroke-opacity="0.14" stroke-width="1"/><path d="M146.9 293.4H152.7V299.0" fill="none" stroke="#586737" stroke-opacity="0.40" stroke-width="1.1"/><rect x="174.8" y="293.4" width="5.8" height="5.6" fill="#453c78" fill-opacity="0.14"/><path d="M174.8 293.4V299.0H180.6" fill="none" stroke="#453c78" stroke-opacity="0.16" stroke-width="1"/><path d="M174.8 293.4H180.6V299.0" fill="none" stroke="#453c78" stroke-opacity="0.47" stroke-width="1.1"/><rect x="36.5" y="321.4" width="5.8" height="5.6" fill="#784564" fill-opacity="0.12"/><path d="M36.5 321.4V327.0H42.3" fill="none" stroke="#784564" stroke-opacity="0.14" stroke-width="1"/><path d="M36.5 321.4H42.3V327.0" fill="none" stroke="#784564" stroke-opacity="0.42" stroke-width="1.1"/><rect x="63.7" y="321.4" width="5.8" height="5.6" fill="#752d3e" fill-opacity="0.14"/><path d="M63.7 321.4V327.0H69.5" fill="none" stroke="#752d3e" stroke-opacity="0.16" stroke-width="1"/><path d="M63.7 321.4H69.5V327.0" fill="none" stroke="#752d3e" stroke-opacity="0.47" stroke-width="1.1"/><rect x="91.2" y="321.4" width="5.8" height="5.6" fill="#905832" fill-opacity="0.11"/><path d="M91.2 321.4V327.0H97.0" fill="none" stroke="#905832" stroke-opacity="0.13" stroke-width="1"/><path d="M91.2 321.4H97.0V327.0" fill="none" stroke="#905832" stroke-opacity="0.38" stroke-width="1.1"/><rect x="119.0" y="321.4" width="5.8" height="5.6" fill="#948e37" fill-opacity="0.08"/><path d="M119.0 321.4V327.0H124.8" fill="none" stroke="#948e37" stroke-opacity="0.10" stroke-width="1"/><path d="M119.0 321.4H124.8V327.0" fill="none" stroke="#948e37" stroke-opacity="0.28" stroke-width="1.1"/><rect x="146.9" y="321.4" width="5.8" height="5.6" fill="#404f45" fill-opacity="0.13"/><path d="M146.9 321.4V327.0H152.7" fill="none" stroke="#404f45" stroke-opacity="0.16" stroke-width="1"/><path d="M146.9 321.4H152.7V327.0" fill="none" stroke="#404f45" stroke-opacity="0.46" stroke-width="1.1"/><rect x="174.8" y="321.4" width="5.8" height="5.6" fill="#2d457c" fill-opacity="0.14"/><path d="M174.8 321.4V327.0H180.6" fill="none" stroke="#2d457c" stroke-opacity="0.16" stroke-width="1"/><path d="M174.8 321.4H180.6V327.0" fill="none" stroke="#2d457c" stroke-opacity="0.47" stroke-width="1.1"/><rect x="36.5" y="349.4" width="5.8" height="5.6" fill="#602851" fill-opacity="0.14"/><path d="M36.5 349.4V355.0H42.3" fill="none" stroke="#602851" stroke-opacity="0.17" stroke-width="1"/><path d="M36.5 349.4H42.3V355.0" fill="none" stroke="#602851" stroke-opacity="0.49" stroke-width="1.1"/><rect x="63.7" y="349.4" width="5.8" height="5.6" fill="#75322d" fill-opacity="0.14"/><path d="M63.7 349.4V355.0H69.5" fill="none" stroke="#75322d" stroke-opacity="0.16" stroke-width="1"/><path d="M63.7 349.4H69.5V355.0" fill="none" stroke="#75322d" stroke-opacity="0.47" stroke-width="1.1"/><rect x="91.2" y="349.4" width="5.8" height="5.6" fill="#945d24" fill-opacity="0.11"/><path d="M91.2 349.4V355.0H97.0" fill="none" stroke="#945d24" stroke-opacity="0.13" stroke-width="1"/><path d="M91.2 349.4H97.0V355.0" fill="none" stroke="#945d24" stroke-opacity="0.37" stroke-width="1.1"/><rect x="119.0" y="349.4" width="5.8" height="5.6" fill="#7b752d" fill-opacity="0.10"/><path d="M119.0 349.4V355.0H124.8" fill="none" stroke="#7b752d" stroke-opacity="0.12" stroke-width="1"/><path d="M119.0 349.4H124.8V355.0" fill="none" stroke="#7b752d" stroke-opacity="0.35" stroke-width="1.1"/><rect x="146.9" y="349.4" width="5.8" height="5.6" fill="#457654" fill-opacity="0.11"/><path d="M146.9 349.4V355.0H152.7" fill="none" stroke="#457654" stroke-opacity="0.13" stroke-width="1"/><path d="M146.9 349.4H152.7V355.0" fill="none" stroke="#457654" stroke-opacity="0.38" stroke-width="1.1"/><rect x="174.8" y="349.4" width="5.8" height="5.6" fill="#544578" fill-opacity="0.13"/><path d="M174.8 349.4V355.0H180.6" fill="none" stroke="#544578" stroke-opacity="0.15" stroke-width="1"/><path d="M174.8 349.4H180.6V355.0" fill="none" stroke="#544578" stroke-opacity="0.44" stroke-width="1.1"/><rect x="36.5" y="377.4" width="5.8" height="5.6" fill="#905d75" fill-opacity="0.10"/><path d="M36.5 377.4V383.0H42.3" fill="none" stroke="#905d75" stroke-opacity="0.12" stroke-width="1"/><path d="M36.5 377.4H42.3V383.0" fill="none" stroke="#905d75" stroke-opacity="0.35" stroke-width="1.1"/><rect x="63.7" y="377.4" width="5.8" height="5.6" fill="#947564" fill-opacity="0.09"/><path d="M63.7 377.4V383.0H69.5" fill="none" stroke="#947564" stroke-opacity="0.11" stroke-width="1"/><path d="M63.7 377.4H69.5V383.0" fill="none" stroke="#947564" stroke-opacity="0.31" stroke-width="1.1"/><rect x="91.2" y="377.4" width="5.8" height="5.6" fill="#632e20" fill-opacity="0.14"/><path d="M91.2 377.4V383.0H97.0" fill="none" stroke="#632e20" stroke-opacity="0.17" stroke-width="1"/><path d="M91.2 377.4H97.0V383.0" fill="none" stroke="#632e20" stroke-opacity="0.49" stroke-width="1.1"/><rect x="119.0" y="377.4" width="5.8" height="5.6" fill="#525230" fill-opacity="0.13"/><path d="M119.0 377.4V383.0H124.8" fill="none" stroke="#525230" stroke-opacity="0.15" stroke-width="1"/><path d="M119.0 377.4H124.8V383.0" fill="none" stroke="#525230" stroke-opacity="0.44" stroke-width="1.1"/><rect x="146.9" y="377.4" width="5.8" height="5.6" fill="#638169" fill-opacity="0.10"/><path d="M146.9 377.4V383.0H152.7" fill="none" stroke="#638169" stroke-opacity="0.11" stroke-width="1"/><path d="M146.9 377.4H152.7V383.0" fill="none" stroke="#638169" stroke-opacity="0.33" stroke-width="1.1"/><rect x="174.8" y="377.4" width="5.8" height="5.6" fill="#726c86" fill-opacity="0.10"/><path d="M174.8 377.4V383.0H180.6" fill="none" stroke="#726c86" stroke-opacity="0.12" stroke-width="1"/><path d="M174.8 377.4H180.6V383.0" fill="none" stroke="#726c86" stroke-opacity="0.35" stroke-width="1.1"/></g>
<g filter="url(#glow)" opacity=".93"><circle cx="313.4" cy="239.8" r="7" fill="#a46cb0"/><circle cx="340.6" cy="239.8" r="7" fill="#f04c6c"/><circle cx="368.1" cy="239.8" r="7" fill="#ce743c"/><circle cx="395.9" cy="239.8" r="7" fill="#ce9464"/><circle cx="423.8" cy="239.8" r="7" fill="#94d03c"/><circle cx="451.7" cy="239.8" r="7" fill="#544c7c"/><circle cx="313.4" cy="267.8" r="7" fill="#c8acc8"/><circle cx="340.6" cy="267.8" r="7" fill="#e87464"/><circle cx="368.1" cy="267.8" r="7" fill="#f7cca4"/><circle cx="395.9" cy="267.8" r="7" fill="#9c8464"/><circle cx="423.8" cy="267.8" r="7" fill="#94b47c"/><circle cx="451.7" cy="267.8" r="7" fill="#445c9c"/><circle cx="313.4" cy="295.8" r="7" fill="#a48ca4"/><circle cx="340.6" cy="295.8" r="7" fill="#e82454"/><circle cx="368.1" cy="295.8" r="7" fill="#f7c41c"/><circle cx="395.9" cy="295.8" r="7" fill="#f7ee9c"/><circle cx="423.8" cy="295.8" r="7" fill="#94ac5c"/><circle cx="451.7" cy="295.8" r="7" fill="#7464c8"/><circle cx="313.4" cy="323.8" r="7" fill="#c874a8"/><circle cx="340.6" cy="323.8" r="7" fill="#c44c68"/><circle cx="368.1" cy="323.8" r="7" fill="#f09454"/><circle cx="395.9" cy="323.8" r="7" fill="#f7ee5c"/><circle cx="423.8" cy="323.8" r="7" fill="#6c8474"/><circle cx="451.7" cy="323.8" r="7" fill="#4c74d0"/><circle cx="313.4" cy="351.8" r="7" fill="#a04488"/><circle cx="340.6" cy="351.8" r="7" fill="#c4544c"/><circle cx="368.1" cy="351.8" r="7" fill="#f79c3c"/><circle cx="395.9" cy="351.8" r="7" fill="#cec44c"/><circle cx="423.8" cy="351.8" r="7" fill="#74c68c"/><circle cx="451.7" cy="351.8" r="7" fill="#8c74c8"/><circle cx="313.4" cy="379.8" r="7" fill="#f09cc4"/><circle cx="340.6" cy="379.8" r="7" fill="#f7c4a8"/><circle cx="368.1" cy="379.8" r="7" fill="#a64e36"/><circle cx="395.9" cy="379.8" r="7" fill="#8a8a50"/><circle cx="423.8" cy="379.8" r="7" fill="#a6d8b0"/><circle cx="451.7" cy="379.8" r="7" fill="#beb4e0"/></g>
<g filter="url(#soft)"><rect x="312.2" y="237.4" width="5.8" height="5.6" fill="#624069" fill-opacity="0.13"/><path d="M312.2 237.4V243.0H318.0" fill="none" stroke="#624069" stroke-opacity="0.15" stroke-width="1"/><path d="M312.2 237.4H318.0V243.0" fill="none" stroke="#624069" stroke-opacity="0.44" stroke-width="1.1"/><rect x="339.4" y="237.4" width="5.8" height="5.6" fill="#902d40" fill-opacity="0.13"/><path d="M339.4 237.4V243.0H345.2" fill="none" stroke="#902d40" stroke-opacity="0.15" stroke-width="1"/><path d="M339.4 237.4H345.2V243.0" fill="none" stroke="#902d40" stroke-opacity="0.45" stroke-width="1.1"/><rect x="366.9" y="237.4" width="5.8" height="5.6" fill="#7b4524" fill-opacity="0.13"/><path d="M366.9 237.4V243.0H372.7" fill="none" stroke="#7b4524" stroke-opacity="0.15" stroke-width="1"/><path d="M366.9 237.4H372.7V243.0" fill="none" stroke="#7b4524" stroke-opacity="0.43" stroke-width="1.1"/><rect x="394.7" y="237.4" width="5.8" height="5.6" fill="#7b583c" fill-opacity="0.12"/><path d="M394.7 237.4V243.0H400.5" fill="none" stroke="#7b583c" stroke-opacity="0.14" stroke-width="1"/><path d="M394.7 237.4H400.5V243.0" fill="none" stroke="#7b583c" stroke-opacity="0.39" stroke-width="1.1"/><rect x="422.6" y="237.4" width="5.8" height="5.6" fill="#587c24" fill-opacity="0.11"/><path d="M422.6 237.4V243.0H428.4" fill="none" stroke="#587c24" stroke-opacity="0.13" stroke-width="1"/><path d="M422.6 237.4H428.4V243.0" fill="none" stroke="#587c24" stroke-opacity="0.37" stroke-width="1.1"/><rect x="450.5" y="237.4" width="5.8" height="5.6" fill="#322d4a" fill-opacity="0.15"/><path d="M450.5 237.4V243.0H456.3" fill="none" stroke="#322d4a" stroke-opacity="0.18" stroke-width="1"/><path d="M450.5 237.4H456.3V243.0" fill="none" stroke="#322d4a" stroke-opacity="0.52" stroke-width="1.1"/><rect x="312.2" y="265.4" width="5.8" height="5.6" fill="#786778" fill-opacity="0.10"/><path d="M312.2 265.4V271.0H318.0" fill="none" stroke="#786778" stroke-opacity="0.12" stroke-width="1"/><path d="M312.2 265.4H318.0V271.0" fill="none" stroke="#786778" stroke-opacity="0.35" stroke-width="1.1"/><rect x="339.4" y="265.4" width="5.8" height="5.6" fill="#8b453c" fill-opacity="0.12"/><path d="M339.4 265.4V271.0H345.2" fill="none" stroke="#8b453c" stroke-opacity="0.14" stroke-width="1"/><path d="M339.4 265.4H345.2V271.0" fill="none" stroke="#8b453c" stroke-opacity="0.41" stroke-width="1.1"/><rect x="366.9" y="265.4" width="5.8" height="5.6" fill="#947a62" fill-opacity="0.09"/><path d="M366.9 265.4V271.0H372.7" fill="none" stroke="#947a62" stroke-opacity="0.10" stroke-width="1"/><path d="M366.9 265.4H372.7V271.0" fill="none" stroke="#947a62" stroke-opacity="0.30" stroke-width="1.1"/><rect x="394.7" y="265.4" width="5.8" height="5.6" fill="#5d4f3c" fill-opacity="0.13"/><path d="M394.7 265.4V271.0H400.5" fill="none" stroke="#5d4f3c" stroke-opacity="0.15" stroke-width="1"/><path d="M394.7 265.4H400.5V271.0" fill="none" stroke="#5d4f3c" stroke-opacity="0.44" stroke-width="1.1"/><rect x="422.6" y="265.4" width="5.8" height="5.6" fill="#586c4a" fill-opacity="0.11"/><path d="M422.6 265.4V271.0H428.4" fill="none" stroke="#586c4a" stroke-opacity="0.13" stroke-width="1"/><path d="M422.6 265.4H428.4V271.0" fill="none" stroke="#586c4a" stroke-opacity="0.39" stroke-width="1.1"/><rect x="450.5" y="265.4" width="5.8" height="5.6" fill="#28375d" fill-opacity="0.15"/><path d="M450.5 265.4V271.0H456.3" fill="none" stroke="#28375d" stroke-opacity="0.18" stroke-width="1"/><path d="M450.5 265.4H456.3V271.0" fill="none" stroke="#28375d" stroke-opacity="0.51" stroke-width="1.1"/><rect x="312.2" y="293.4" width="5.8" height="5.6" fill="#625462" fill-opacity="0.12"/><path d="M312.2 293.4V299.0H318.0" fill="none" stroke="#625462" stroke-opacity="0.14" stroke-width="1"/><path d="M312.2 293.4H318.0V299.0" fill="none" stroke="#625462" stroke-opacity="0.41" stroke-width="1.1"/><rect x="339.4" y="293.4" width="5.8" height="5.6" fill="#8b1532" fill-opacity="0.15"/><path d="M339.4 293.4V299.0H345.2" fill="none" stroke="#8b1532" stroke-opacity="0.17" stroke-width="1"/><path d="M339.4 293.4H345.2V299.0" fill="none" stroke="#8b1532" stroke-opacity="0.50" stroke-width="1.1"/><rect x="366.9" y="293.4" width="5.8" height="5.6" fill="#947510" fill-opacity="0.10"/><path d="M366.9 293.4V299.0H372.7" fill="none" stroke="#947510" stroke-opacity="0.12" stroke-width="1"/><path d="M366.9 293.4H372.7V299.0" fill="none" stroke="#947510" stroke-opacity="0.34" stroke-width="1.1"/><rect x="394.7" y="293.4" width="5.8" height="5.6" fill="#948e5d" fill-opacity="0.08"/><path d="M394.7 293.4V299.0H400.5" fill="none" stroke="#948e5d" stroke-opacity="0.09" stroke-width="1"/><path d="M394.7 293.4H400.5V299.0" fill="none" stroke="#948e5d" stroke-opacity="0.27" stroke-width="1.1"/><rect x="422.6" y="293.4" width="5.8" height="5.6" fill="#586737" fill-opacity="0.12"/><path d="M422.6 293.4V299.0H428.4" fill="none" stroke="#586737" stroke-opacity="0.14" stroke-width="1"/><path d="M422.6 293.4H428.4V299.0" fill="none" stroke="#586737" stroke-opacity="0.40" stroke-width="1.1"/><rect x="450.5" y="293.4" width="5.8" height="5.6" fill="#453c78" fill-opacity="0.14"/><path d="M450.5 293.4V299.0H456.3" fill="none" stroke="#453c78" stroke-opacity="0.16" stroke-width="1"/><path d="M450.5 293.4H456.3V299.0" fill="none" stroke="#453c78" stroke-opacity="0.47" stroke-width="1.1"/><rect x="312.2" y="321.4" width="5.8" height="5.6" fill="#784564" fill-opacity="0.12"/><path d="M312.2 321.4V327.0H318.0" fill="none" stroke="#784564" stroke-opacity="0.14" stroke-width="1"/><path d="M312.2 321.4H318.0V327.0" fill="none" stroke="#784564" stroke-opacity="0.42" stroke-width="1.1"/><rect x="339.4" y="321.4" width="5.8" height="5.6" fill="#752d3e" fill-opacity="0.14"/><path d="M339.4 321.4V327.0H345.2" fill="none" stroke="#752d3e" stroke-opacity="0.16" stroke-width="1"/><path d="M339.4 321.4H345.2V327.0" fill="none" stroke="#752d3e" stroke-opacity="0.47" stroke-width="1.1"/><rect x="366.9" y="321.4" width="5.8" height="5.6" fill="#905832" fill-opacity="0.11"/><path d="M366.9 321.4V327.0H372.7" fill="none" stroke="#905832" stroke-opacity="0.13" stroke-width="1"/><path d="M366.9 321.4H372.7V327.0" fill="none" stroke="#905832" stroke-opacity="0.38" stroke-width="1.1"/><rect x="394.7" y="321.4" width="5.8" height="5.6" fill="#948e37" fill-opacity="0.08"/><path d="M394.7 321.4V327.0H400.5" fill="none" stroke="#948e37" stroke-opacity="0.10" stroke-width="1"/><path d="M394.7 321.4H400.5V327.0" fill="none" stroke="#948e37" stroke-opacity="0.28" stroke-width="1.1"/><rect x="422.6" y="321.4" width="5.8" height="5.6" fill="#404f45" fill-opacity="0.13"/><path d="M422.6 321.4V327.0H428.4" fill="none" stroke="#404f45" stroke-opacity="0.16" stroke-width="1"/><path d="M422.6 321.4H428.4V327.0" fill="none" stroke="#404f45" stroke-opacity="0.46" stroke-width="1.1"/><rect x="450.5" y="321.4" width="5.8" height="5.6" fill="#2d457c" fill-opacity="0.14"/><path d="M450.5 321.4V327.0H456.3" fill="none" stroke="#2d457c" stroke-opacity="0.16" stroke-width="1"/><path d="M450.5 321.4H456.3V327.0" fill="none" stroke="#2d457c" stroke-opacity="0.47" stroke-width="1.1"/><rect x="312.2" y="349.4" width="5.8" height="5.6" fill="#602851" fill-opacity="0.14"/><path d="M312.2 349.4V355.0H318.0" fill="none" stroke="#602851" stroke-opacity="0.17" stroke-width="1"/><path d="M312.2 349.4H318.0V355.0" fill="none" stroke="#602851" stroke-opacity="0.49" stroke-width="1.1"/><rect x="339.4" y="349.4" width="5.8" height="5.6" fill="#75322d" fill-opacity="0.14"/><path d="M339.4 349.4V355.0H345.2" fill="none" stroke="#75322d" stroke-opacity="0.16" stroke-width="1"/><path d="M339.4 349.4H345.2V355.0" fill="none" stroke="#75322d" stroke-opacity="0.47" stroke-width="1.1"/><rect x="366.9" y="349.4" width="5.8" height="5.6" fill="#945d24" fill-opacity="0.11"/><path d="M366.9 349.4V355.0H372.7" fill="none" stroke="#945d24" stroke-opacity="0.13" stroke-width="1"/><path d="M366.9 349.4H372.7V355.0" fill="none" stroke="#945d24" stroke-opacity="0.37" stroke-width="1.1"/><rect x="394.7" y="349.4" width="5.8" height="5.6" fill="#7b752d" fill-opacity="0.10"/><path d="M394.7 349.4V355.0H400.5" fill="none" stroke="#7b752d" stroke-opacity="0.12" stroke-width="1"/><path d="M394.7 349.4H400.5V355.0" fill="none" stroke="#7b752d" stroke-opacity="0.35" stroke-width="1.1"/><rect x="422.6" y="349.4" width="5.8" height="5.6" fill="#457654" fill-opacity="0.11"/><path d="M422.6 349.4V355.0H428.4" fill="none" stroke="#457654" stroke-opacity="0.13" stroke-width="1"/><path d="M422.6 349.4H428.4V355.0" fill="none" stroke="#457654" stroke-opacity="0.38" stroke-width="1.1"/><rect x="450.5" y="349.4" width="5.8" height="5.6" fill="#544578" fill-opacity="0.13"/><path d="M450.5 349.4V355.0H456.3" fill="none" stroke="#544578" stroke-opacity="0.15" stroke-width="1"/><path d="M450.5 349.4H456.3V355.0" fill="none" stroke="#544578" stroke-opacity="0.44" stroke-width="1.1"/><rect x="312.2" y="377.4" width="5.8" height="5.6" fill="#905d75" fill-opacity="0.10"/><path d="M312.2 377.4V383.0H318.0" fill="none" stroke="#905d75" stroke-opacity="0.12" stroke-width="1"/><path d="M312.2 377.4H318.0V383.0" fill="none" stroke="#905d75" stroke-opacity="0.35" stroke-width="1.1"/><rect x="339.4" y="377.4" width="5.8" height="5.6" fill="#947564" fill-opacity="0.09"/><path d="M339.4 377.4V383.0H345.2" fill="none" stroke="#947564" stroke-opacity="0.11" stroke-width="1"/><path d="M339.4 377.4H345.2V383.0" fill="none" stroke="#947564" stroke-opacity="0.31" stroke-width="1.1"/><rect x="366.9" y="377.4" width="5.8" height="5.6" fill="#632e20" fill-opacity="0.14"/><path d="M366.9 377.4V383.0H372.7" fill="none" stroke="#632e20" stroke-opacity="0.17" stroke-width="1"/><path d="M366.9 377.4H372.7V383.0" fill="none" stroke="#632e20" stroke-opacity="0.49" stroke-width="1.1"/><rect x="394.7" y="377.4" width="5.8" height="5.6" fill="#525230" fill-opacity="0.13"/><path d="M394.7 377.4V383.0H400.5" fill="none" stroke="#525230" stroke-opacity="0.15" stroke-width="1"/><path d="M394.7 377.4H400.5V383.0" fill="none" stroke="#525230" stroke-opacity="0.44" stroke-width="1.1"/><rect x="422.6" y="377.4" width="5.8" height="5.6" fill="#638169" fill-opacity="0.10"/><path d="M422.6 377.4V383.0H428.4" fill="none" stroke="#638169" stroke-opacity="0.11" stroke-width="1"/><path d="M422.6 377.4H428.4V383.0" fill="none" stroke="#638169" stroke-opacity="0.33" stroke-width="1.1"/><rect x="450.5" y="377.4" width="5.8" height="5.6" fill="#726c86" fill-opacity="0.10"/><path d="M450.5 377.4V383.0H456.3" fill="none" stroke="#726c86" stroke-opacity="0.12" stroke-width="1"/><path d="M450.5 377.4H456.3V383.0" fill="none" stroke="#726c86" stroke-opacity="0.35" stroke-width="1.1"/></g>
<path d="M109.3 192V187.2H114.9V192M153.5 192V187.2H159.1V192M209.0 192V187.2H214.6V192M282.3 192V187.2H287.9V192M291.8 192V187.2H297.4V192M325.8 192V187.2H331.4V192" fill="none" stroke="#5a5a5a" stroke-width=".9" filter="url(#b1)"/>
<path d="M450.8 192V186.4H456.2V192M461.4 192V186.4H466.8V192M472.2 192V186.4H477.6V192M517.2 192V186.4H522.6V192" fill="none" stroke="#8c8c8c" stroke-width=".9" filter="url(#b1)"/>
<path d="M350 189.8H355" fill="none" stroke="#666" stroke-width=".9"/>
<g font-weight="bold" fill="#111" font-size="23.5px" text-anchor="middle">
<text x="106.5" y="25.8">2</text>
<text x="310.3" y="29.2" text-anchor="start" textLength="10.6" lengthAdjust="spacingAndGlyphs">1</text>
<text x="108.5" y="419.3" font-size="24px">3</text>
</g>
<text x="391.2" y="417" font-family="'Liberation Serif',serif" font-weight="bold" font-size="24px" fill="#111" text-anchor="middle" style="font-family:'Liberation Serif',serif">N</text>
<g>
<rect x="213.9" y="245.3" width="2" height="9.3" fill="#161616"/><rect x="215.4" y="246.2" width="9.3" height="7.5" fill="#161616"/>
<path d="M219 248.4H223.6M219 251.5H223.6M216.8 250H218.6M217.7 249.1V250.9" stroke="#f4f4f4" stroke-width=".9" fill="none"/>
<rect x="282.2" y="245.3" width="2" height="9.3" fill="#161616"/><rect x="273" y="246.2" width="9.6" height="7.5" fill="#161616"/>
<path d="M277 248.2H274.8V251.8H277M279 248.2H281.2V251.8H279" stroke="#f4f4f4" stroke-width=".9" fill="none"/>
<circle cx="234.5" cy="249.9" r="3.45" fill="#1a1a1a"/>
<circle cx="248.4" cy="249.9" r="3.45" fill="#1a1a1a"/>
<circle cx="262.1" cy="249.9" r="3.45" fill="#1a1a1a"/>
<rect x="214.3" y="348.5" width="11.2" height="10.1" fill="#161616"/>
<path d="M217 350.2V356.9M217.6 350.6H224M217.6 353.5H224M217.6 356.5H224" stroke="#f4f4f4" stroke-width=".9" fill="none"/>
<rect x="274.6" y="348.5" width="9.1" height="10.1" fill="#2e2e2e"/>
<path d="M276 350L282.4 357.2M282.4 350L276 357.2" stroke="#c8c8c8" stroke-width=".9" fill="none"/><rect x="277.6" y="352" width="3.2" height="3.2" fill="#777"/>
<circle cx="234.5" cy="353.7" r="3.45" fill="#1a1a1a"/>
<circle cx="248.4" cy="353.7" r="3.45" fill="#1a1a1a"/>
<circle cx="262.1" cy="353.7" r="3.45" fill="#1a1a1a"/>
</g>
<rect x="475" y="29.9" width="82" height="72.6" fill="#fff" stroke="#5e5e5e" stroke-width="1.9"/>
<rect x="470.6" y="46.2" width="4" height="18.8" rx="2" fill="#c4c4c4" stroke="#3a3a3a" stroke-width="1.1"/>
<rect x="557.4" y="41.2" width="2.6" height="24" rx="1" fill="#ddd" stroke="#666" stroke-width=".8"/>
<circle cx="486.4" cy="51.4" r="5.7" fill="url(#logo)"/><path d="M483.4 52.4Q485.6 48.6 489.4 49.6Q486.6 50.6 486.8 53.8Q485.4 51.8 483.4 52.4Z" fill="#c4ecfb" opacity=".9"/>
<text x="498.6" y="55" font-size="8px" font-weight="bold" fill="#5878b8" textLength="52.8" lengthAdjust="spacingAndGlyphs" style="font-family:'Liberation Serif',serif" filter="url(#b1)">ledcolourlight</text>
<text x="482.2" y="84.4" font-size="16.4px" font-weight="bold" fill="#141414" textLength="70" lengthAdjust="spacing">Controller</text>
<g stroke="#161616" stroke-width="1.3" fill="#fff" stroke-linejoin="round">
<path d="M432.4 54.5L442 52.5V60.1L432.4 58.1Z"/>
<rect x="442" y="52.2" width="12" height="8.2"/>
</g>
<rect x="442" y="51.6" width="2.3" height="9.4" fill="#161616"/><rect x="445.8" y="51.6" width="2.5" height="9.4" fill="#161616"/>
<rect x="453" y="52.3" width="5.4" height="8" fill="#161616"/>
<rect x="457.6" y="53" width="6" height="6.6" fill="#fff" stroke="#161616" stroke-width="1.3"/>
<rect x="455.4" y="55" width="5" height="2.6" fill="#161616"/>
<path d="M454.2 56.3H456.6M455.4 54.6V58" stroke="#fff" stroke-width=".8" fill="none"/>
<rect x="420.5" y="119.3" width="115.3" height="59.7" fill="#fff" stroke="#2a2a2a" stroke-width="1.4"/>
<text x="422.9" y="137.5" font-size="19.6px" font-weight="bold" fill="#111" stroke="#111" stroke-width=".3" textLength="90.6" lengthAdjust="spacingAndGlyphs">Power supply</text>
<rect x="517.1" y="126.1" width="15" height="17" rx="1.2" fill="#b4b4b4"/><rect x="517.1" y="152" width="15" height="17" rx="1.2" fill="#b4b4b4"/>
<path d="M517.90 126.1V143.1M517.90 152V169M520.60 126.1V143.1M520.60 152V169M523.30 126.1V143.1M523.30 152V169M526.00 126.1V143.1M526.00 152V169M528.70 126.1V143.1M528.70 152V169M531.40 126.1V143.1M531.40 152V169" stroke="#1c1c1c" stroke-width="1.4" fill="none" stroke-linecap="round"/>
<rect x="536" y="128.6" width="2.9" height="3.7" rx="1.2" fill="#fff" stroke="#333" stroke-width=".9"/>
<g fill="none" stroke="#222" stroke-width="1">
<circle cx="449" cy="162" r="10.8" stroke-width=".9"/>
<circle cx="449" cy="162" r="8.4" stroke-width="1.5" stroke-dasharray="11.2 2" stroke-dashoffset="5.6"/>
<path d="M449 155.6L454.5 158.8V165.2L449 168.4L443.5 165.2V158.8Z" stroke-width="1.3"/>
<circle cx="449" cy="162" r="3.6" stroke-width=".7"/>
</g>
<g fill="#222"><circle cx="447.6" cy="160.6" r=".85"/><circle cx="450.4" cy="160.6" r=".85"/><circle cx="447.6" cy="163.4" r=".85"/><circle cx="450.4" cy="163.4" r=".85"/></g>
<path d="M535.8 165.5C540 163.5 546 161 551 159.1C556 157.2 560.4 155.5 560.2 152.2C560 148.5 555 147 551 146.5C547 146 542 146.3 540 144.2C538.6 142.6 539.6 140.8 541.8 140.2C544 139.5 546 139.4 548 139.4L567.4 140.2" fill="none" stroke="#222" stroke-width="2.6"/><path d="M535.8 165.5C540 163.5 546 161 551 159.1C556 157.2 560.4 155.5 560.2 152.2C560 148.5 555 147 551 146.5C547 146 542 146.3 540 144.2C538.6 142.6 539.6 140.8 541.8 140.2C544 139.5 546 139.4 548 139.4L567.4 140.2" fill="none" stroke="#fff" stroke-width=".9"/>
<path d="M567.2 138L584.4 137.6V143.6L567.2 142.6Z" fill="#1e1e1e"/>
<path d="M569 140.4L583 140" stroke="#9a9a9a" stroke-width=".7" fill="none"/>
<g fill="#fff" stroke="#1e1e1e" stroke-width="1.1" stroke-linejoin="round">
<path d="M585.2 134.4V131.6Q585.2 130.4 586.4 130.4Q587.6 130.4 587.6 131.6V134"/>
<path d="M587.9 134.6V126Q587.9 124.2 589.5 124.2Q591.1 124.2 591.1 126V134"/>
<path d="M594.6 133.4V128Q594.6 126.2 596.2 126.2Q597.8 126.2 597.8 128V134"/>
<path d="M584.4 143.6V134.4Q585.6 131.6 589.2 132.6Q593.4 134.4 597.2 132.2Q600 131.8 600 135Q600 139 596.4 141.8Q592.4 144.4 588 143.9Z"/>
<path d="M586.2 139.6Q591.2 142.4 596 139.8Q598.4 138.2 599.4 136" fill="none" stroke-width=".9"/>
</g>
<text x="610.8" y="130.4" font-size="18.2px" fill="#111" textLength="72.4" lengthAdjust="spacingAndGlyphs">Net cable</text>
<g fill="#fff" stroke="#1a1a1a" stroke-width="1.25" stroke-linejoin="round">
<path d="M629.4 259.6L629.8 264.4L669.2 292.4L751.4 261.4L751.2 257.6L669.3 287.2Z"/>
<path d="M629.4 259.6L704 240.2L751.2 257.6L669.3 287.2Z"/>
<path d="M615 184.4L696.4 186.6L705 239.6L632.2 257.4Z"/>
<path d="M618.4 186.3L694.6 188.3L700.8 238.7L635.4 251.2Z"/>
</g>
<path d="M638.0 258.0L701.6 242.9L729.6 251.4L661.6 276.6Z" fill="#242424" stroke="#1a1a1a" stroke-width=".8"/>
<path d="M640.2 258.7L642.0 258.2L643.9 259.7L642.0 260.1ZM643.9 257.8L645.7 257.3L647.6 258.7L645.8 259.2ZM647.7 256.8L649.5 256.4L651.4 257.7L649.6 258.2ZM651.5 255.9L653.3 255.5L655.2 256.8L653.4 257.2ZM655.2 255.0L657.0 254.6L659.0 255.8L657.1 256.3ZM659.0 254.1L660.8 253.7L662.7 254.8L660.9 255.3ZM662.7 253.2L664.5 252.7L666.5 253.9L664.7 254.3ZM666.5 252.3L668.3 251.8L670.3 252.9L668.5 253.4ZM670.2 251.3L672.0 250.9L674.1 251.9L672.2 252.4ZM674.0 250.4L675.8 250.0L677.8 251.0L676.0 251.4ZM677.7 249.5L679.5 249.1L681.6 250.0L679.8 250.5ZM681.5 248.6L683.3 248.1L685.4 249.1L683.6 249.5ZM685.2 247.7L687.0 247.2L689.2 248.1L687.3 248.6ZM689.0 246.7L690.8 246.3L692.9 247.1L691.1 247.6ZM692.8 245.8L694.6 245.4L696.7 246.2L694.9 246.6ZM696.5 244.9L698.3 244.5L700.5 245.2L698.7 245.7ZM700.3 244.0L702.1 243.6L704.2 244.2L702.4 244.7ZM645.5 261.4L647.3 260.9L649.2 262.3L647.3 262.8ZM649.3 260.4L651.1 259.9L653.0 261.3L651.1 261.8ZM653.1 259.4L654.9 258.9L656.8 260.2L655.0 260.7ZM656.9 258.3L658.7 257.9L660.6 259.1L658.8 259.6ZM660.7 257.3L662.5 256.8L664.4 258.1L662.6 258.6ZM664.5 256.3L666.3 255.8L668.2 257.0L666.4 257.5ZM668.3 255.3L670.1 254.8L672.1 255.9L670.2 256.4ZM672.0 254.3L673.9 253.8L675.9 254.9L674.1 255.4ZM675.8 253.3L677.7 252.8L679.7 253.8L677.9 254.3ZM679.6 252.2L681.5 251.8L683.5 252.7L681.7 253.3ZM683.4 251.2L685.3 250.7L687.3 251.7L685.5 252.2ZM687.2 250.2L689.1 249.7L691.2 250.6L689.3 251.1ZM691.0 249.2L692.9 248.7L695.0 249.6L693.1 250.1ZM694.8 248.2L696.7 247.7L698.8 248.5L697.0 249.0ZM698.6 247.2L700.5 246.7L702.6 247.4L700.8 247.9ZM702.4 246.1L704.2 245.7L706.4 246.4L704.6 246.9ZM648.1 264.8L649.9 264.3L651.8 265.7L649.9 266.3ZM651.9 263.7L653.8 263.2L655.7 264.6L653.8 265.1ZM655.8 262.6L657.6 262.1L659.5 263.4L657.7 263.9ZM659.6 261.5L661.4 260.9L663.4 262.2L661.5 262.8ZM663.4 260.4L665.3 259.8L667.2 261.1L665.4 261.6ZM667.3 259.2L669.1 258.7L671.1 259.9L669.2 260.5ZM671.1 258.1L673.0 257.6L675.0 258.7L673.1 259.3ZM675.0 257.0L676.8 256.5L678.8 257.6L677.0 258.1ZM678.8 255.9L680.7 255.4L682.7 256.4L680.8 257.0ZM682.6 254.8L684.5 254.2L686.5 255.3L684.7 255.8ZM686.5 253.7L688.3 253.1L690.4 254.1L688.5 254.6ZM690.3 252.6L692.2 252.0L694.3 252.9L692.4 253.5ZM694.2 251.4L696.0 250.9L698.1 251.8L696.3 252.3ZM698.0 250.3L699.9 249.8L702.0 250.6L700.1 251.2ZM701.8 249.2L703.7 248.7L705.8 249.4L704.0 250.0ZM705.7 248.1L707.5 247.6L709.7 248.3L707.8 248.8ZM709.5 247.0L711.4 246.4L713.6 247.1L711.7 247.7ZM653.4 267.5L655.3 266.9L657.1 268.3L655.2 268.9ZM657.3 266.3L659.1 265.7L661.0 267.0L659.2 267.6ZM661.2 265.0L663.0 264.5L664.9 265.8L663.1 266.4ZM665.0 263.8L666.9 263.2L668.8 264.5L667.0 265.1ZM668.9 262.6L670.8 262.0L672.7 263.3L670.9 263.9ZM672.8 261.4L674.7 260.8L676.6 262.0L674.8 262.6ZM676.7 260.2L678.6 259.6L680.5 260.7L678.7 261.3ZM680.6 259.0L682.4 258.4L684.4 259.5L682.6 260.1ZM684.5 257.8L686.3 257.2L688.4 258.2L686.5 258.8ZM688.3 256.5L690.2 256.0L692.3 256.9L690.4 257.6ZM692.2 255.3L694.1 254.7L696.2 255.7L694.3 256.3ZM696.1 254.1L698.0 253.5L700.1 254.4L698.2 255.0ZM700.0 252.9L701.9 252.3L704.0 253.2L702.1 253.8ZM703.9 251.7L705.7 251.1L707.9 251.9L706.0 252.5ZM707.8 250.5L709.6 249.9L711.8 250.6L709.9 251.2ZM711.6 249.3L713.5 248.7L715.7 249.4L713.8 250.0ZM656.0 271.0L657.9 270.3L659.7 271.8L657.8 272.4ZM659.9 269.7L661.8 269.0L663.7 270.4L661.8 271.1ZM663.8 268.3L665.7 267.7L667.6 269.0L665.7 269.7ZM667.8 267.0L669.6 266.4L671.6 267.7L669.7 268.3ZM671.7 265.7L673.6 265.1L675.5 266.3L673.6 267.0ZM675.6 264.4L677.5 263.8L679.5 265.0L677.6 265.6ZM679.5 263.1L681.4 262.5L683.4 263.6L681.5 264.3ZM683.5 261.8L685.3 261.1L687.4 262.2L685.5 262.9ZM687.4 260.5L689.3 259.8L691.3 260.9L689.4 261.5ZM691.3 259.1L693.2 258.5L695.2 259.5L693.4 260.2ZM695.2 257.8L697.1 257.2L699.2 258.2L697.3 258.8ZM699.2 256.5L701.1 255.9L703.1 256.8L701.2 257.5ZM703.1 255.2L705.0 254.6L707.1 255.4L705.2 256.1ZM707.0 253.9L708.9 253.3L711.0 254.1L709.1 254.7ZM710.9 252.6L712.8 251.9L715.0 252.7L713.1 253.4ZM714.9 251.3L716.8 250.6L718.9 251.4L717.0 252.0ZM718.8 250.0L720.7 249.3L722.9 250.0L721.0 250.7ZM661.3 273.6L663.2 272.9L665.1 274.3L663.2 275.0ZM665.3 272.1L667.2 271.5L669.1 272.8L667.2 273.5ZM669.2 270.7L671.2 270.0L673.1 271.4L671.1 272.1ZM673.2 269.3L675.1 268.6L677.1 269.9L675.1 270.6ZM677.2 267.9L679.1 267.2L681.0 268.4L679.1 269.1ZM681.2 266.5L683.1 265.8L685.0 267.0L683.1 267.7ZM685.1 265.1L687.0 264.4L689.0 265.5L687.1 266.2ZM689.1 263.7L691.0 263.0L693.0 264.1L691.1 264.8ZM693.1 262.2L695.0 261.6L697.0 262.6L695.1 263.3ZM697.0 260.8L698.9 260.2L701.0 261.1L699.1 261.8ZM701.0 259.4L702.9 258.7L705.0 259.7L703.1 260.4ZM705.0 258.0L706.9 257.3L709.0 258.2L707.1 258.9ZM708.9 256.6L710.9 255.9L713.0 256.8L711.1 257.5ZM712.9 255.2L714.8 254.5L717.0 255.3L715.0 256.0ZM716.9 253.8L718.8 253.1L720.9 253.8L719.0 254.5ZM720.9 252.4L722.8 251.7L724.9 252.4L723.0 253.1Z" fill="#e6e6e6" stroke="#e6e6e6" stroke-width=".4" stroke-linejoin="round"/>
<path d="M695.2 264.4L716.4 258.8L719.8 262.4L698.6 268.4Z" fill="#fff" stroke="#1a1a1a" stroke-width="1.5"/>
<path d="M636.6 266.4L641.4 269.8V274.4L636.6 271Z M646 273.4L653 278.2V282.4L646 277.6Z" fill="#1e1e1e"/><circle cx="658" cy="283.6" r="1.2" fill="none" stroke="#1e1e1e" stroke-width=".8"/>
<circle cx="636.4" cy="256.6" r="1.3" fill="#333"/><circle cx="701.4" cy="240.8" r="1.3" fill="#333"/>
<text x="503" y="382.6" font-size="27px" fill="#2a2a2a" textLength="215" lengthAdjust="spacingAndGlyphs">Connection Guide</text>
<rect x="0" y="191.4" width="757" height="32.8" fill="#ffffff" fill-opacity=".94"/>
<rect x="0" y="205" width="215" height="19.2" fill="url(#lgray)"/><rect x="0" y="191.4" width="22" height="14" fill="#efefef"/>
<g filter="url(#smear)" opacity=".62" mask="url(#smask)"><rect x="31.4" y="189" width="12.8" height="18.4" fill="#a46cb0"/><rect x="58.3" y="189" width="12.8" height="18.4" fill="#f04c6c"/><rect x="85.9" y="189" width="12.8" height="18.4" fill="#ce743c"/><rect x="113.8" y="189" width="12.8" height="18.4" fill="#ce9464"/><rect x="142.0" y="189" width="12.8" height="18.4" fill="#94d03c"/><rect x="169.4" y="189" width="12.8" height="18.4" fill="#544c7c"/><rect x="225.1" y="189" width="12.8" height="18.4" fill="#544c7c"/><rect x="252.5" y="189" width="12.8" height="18.4" fill="#94d03c"/><rect x="280.7" y="189" width="12.8" height="18.4" fill="#ce9464"/><rect x="308.6" y="189" width="12.8" height="18.4" fill="#ce743c"/><rect x="336.2" y="189" width="12.8" height="18.4" fill="#f04c6c"/><rect x="363.1" y="189" width="12.8" height="18.4" fill="#a46cb0"/></g>
<g filter="url(#smear2)" stroke-linecap="butt" fill="none">
<path d="M2.8 191.4V224.2" stroke="#bdbdbd" stroke-width="2.4"/>
<path d="M754.4 191.4V224.2" stroke="#c4c4c4" stroke-width="2.2"/>
<path d="M23.5 191.4V207M190.5 191.4V207M216.6 191.4V207M383.8 191.4V207" stroke="#c9c9c9" stroke-width="2.2"/>
<path d="M49 208V226M152.8 208V226" stroke="#d2d2d2" stroke-width="1.8"/>
<path d="M617.8 192V208M623.2 204V223M698.4 192V208M701.2 204V223" stroke="#c2c2c2" stroke-width="5.2"/>
<path d="M606.2 191.4V224.2" stroke="#d4d4d4" stroke-width="1.6"/>
</g>
<path d="M49 221.5V226.1M152.8 221.5V226.1" stroke="#555" stroke-width="1.1" fill="none"/>
<text x="286.4" y="217.1" font-size="27.4px" fill="#888888" stroke="#888888" stroke-width=".4" fill-opacity=".95" stroke-opacity=".9" textLength="185.2" lengthAdjust="spacingAndGlyphs">trade.china.cn</text>
</svg></body></html>
